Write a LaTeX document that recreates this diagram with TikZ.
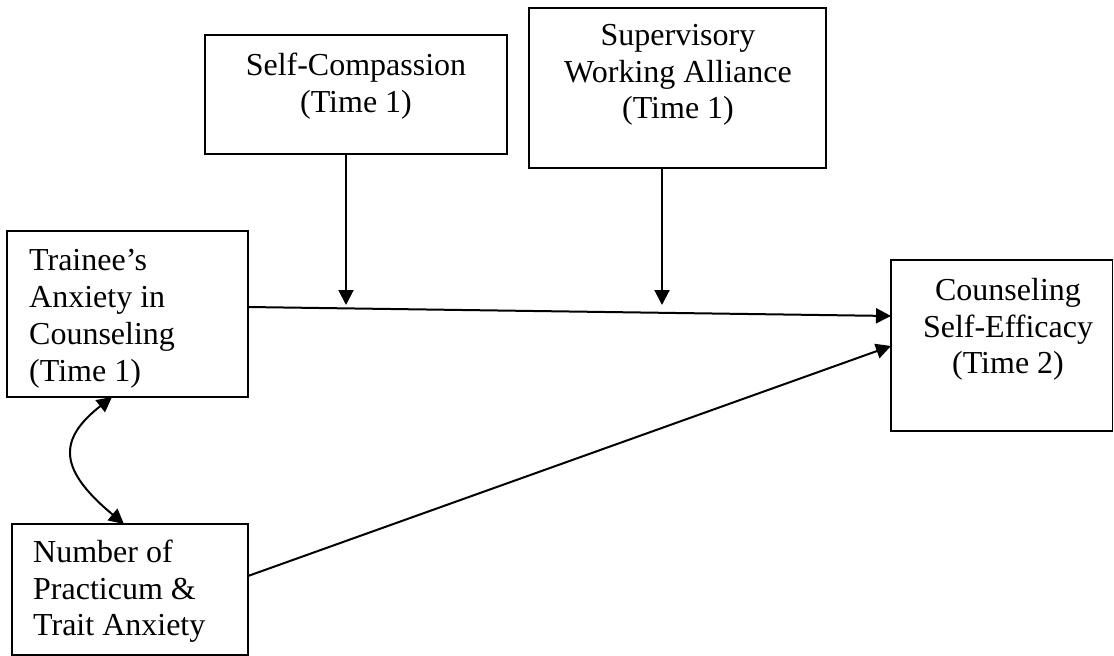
\documentclass[tikz,border=0pt]{standalone}
\usepackage{fontspec}
\setmainfont{Liberation Serif}
\usetikzlibrary{arrows.meta}
\begin{document}
\begin{tikzpicture}[x=1pt,y=-1pt,
  box/.style={draw, line width=1.4pt, rectangle, inner sep=0pt, outer sep=0pt, anchor=north west},
  lbl/.style={inner sep=0pt, font=\fontsize{32}{36.8}\selectfont},
  conn/.style={line width=2pt, -{Triangle[length=15pt,width=15pt]}},
  dconn/.style={line width=2pt, {Triangle[length=15pt,width=15pt]}-{Triangle[length=15pt,width=15pt]}}
  ]
\useasboundingbox (0,0) rectangle (1114,656);
% boxes
\node[box, minimum width=302pt, minimum height=119pt] (sc) at (205,35) {};
\node[box, minimum width=297pt, minimum height=160pt] (sw) at (529,8) {};
\node[box, minimum width=241pt, minimum height=166pt] (ta) at (7,231) {};
\node[box, minimum width=236pt, minimum height=131pt] (np) at (12,524) {};
\node[box, minimum width=221.5pt, minimum height=171pt] (cs) at (891,260) {};
% texts
\node[lbl, align=center, anchor=north] (sct) at (356,51) {\rule{0pt}{24pt}Self-Compassion\\(Time 1)};
\node[lbl, align=center, anchor=north] (swt) at (678,21) {\rule{0pt}{24pt}Supervisory\\Working Alliance\\(Time 1)};
\node[lbl, align=left, anchor=north west] (tat) at (29,246.7) {\rule{0pt}{24pt}Trainee’s\\Anxiety in\\Counseling\\(Time 1)};
\node[lbl, align=left, anchor=north west] (npt) at (33,538) {\rule{0pt}{24pt}Number of\\Practicum \&\\Trait Anxiety};
\node[lbl, align=center, anchor=north] (cst) at (1008,276) {\rule{0pt}{24pt}Counseling\\Self-Efficacy\\(Time 2)};
% connector end points
\coordinate (m1) at (346,305);
\coordinate (m2) at (662,305);
\draw[conn] (sc.south -| m1) -- (m1);
\draw[conn] (sw.south -| m2) -- (m2);
\draw[conn] (ta.east |- 0,307) -- (cs.west |- 0,316);
\draw[conn] (np.east |- 0,576) -- (cs.west |- 0,346);
\draw[dconn] (ta.south -| 112,0) .. controls (57,440) and (59,470) .. (np.north -| 124,0);
\end{tikzpicture}
\end{document}
